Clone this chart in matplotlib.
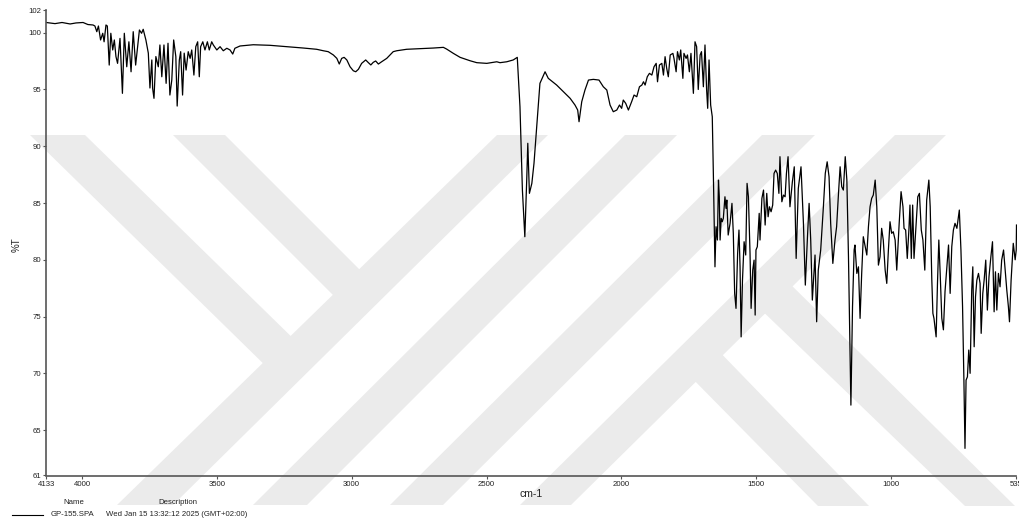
import matplotlib
matplotlib.use("Agg")
import matplotlib.pyplot as plt
from matplotlib.patches import Polygon
from matplotlib.transforms import Affine2D

# FTIR spectrum of GP-155 (wavenumber in cm-1, transmittance in %T)
wavenumber = [
    4133, 4100, 4074, 4044, 4022, 3996, 3978, 3959, 3952, 3945, 3939, 3931, 3923, 3918,
    3911, 3906, 3899, 3893, 3886, 3880, 3874, 3868, 3859, 3850, 3843, 3834, 3826, 3818,
    3810, 3801, 3787, 3779, 3773, 3763, 3754, 3748, 3741, 3738, 3733, 3726, 3717, 3711,
    3704, 3696, 3688, 3681, 3674, 3667, 3660, 3652, 3647, 3639, 3634, 3627, 3621, 3614,
    3606, 3599, 3593, 3585, 3578, 3571, 3565, 3560, 3552, 3544, 3535, 3528, 3519, 3513,
    3500, 3488, 3476, 3463, 3451, 3441, 3433, 3414, 3365, 3303, 3241, 3179, 3130, 3105,
    3087, 3068, 3055, 3046, 3037, 3028, 3018, 3006, 2994, 2985, 2975, 2963, 2948, 2938,
    2929, 2920, 2911, 2901, 2889, 2870, 2846, 2833, 2796, 2747, 2697, 2660, 2648, 2623,
    2598, 2561, 2536, 2499, 2462, 2450, 2425, 2401, 2386, 2376, 2367, 2358, 2351, 2347,
    2341, 2332, 2324, 2314, 2302, 2283, 2271, 2240, 2215, 2190, 2172, 2162, 2157, 2147,
    2135, 2122, 2104, 2083, 2067, 2054, 2042, 2030, 2017, 2007, 1999, 1993, 1984, 1974,
    1962, 1953, 1943, 1933, 1924, 1918, 1912, 1904, 1896, 1887, 1879, 1871, 1866, 1859,
    1850, 1844, 1838, 1832, 1826, 1819, 1809, 1805, 1797, 1792, 1785, 1780, 1772, 1768,
    1760, 1755, 1748, 1742, 1733, 1727, 1721, 1715, 1708, 1703, 1696, 1690, 1684, 1680,
    1675, 1669, 1663, 1659, 1656, 1653, 1649, 1644, 1640, 1637, 1634, 1630, 1626, 1622,
    1616, 1612, 1609, 1604, 1597, 1590, 1585, 1580, 1575, 1569, 1564, 1560, 1556, 1551,
    1545, 1539, 1534, 1529, 1523, 1519, 1513, 1508, 1504, 1501, 1496, 1489, 1486, 1479,
    1473, 1467, 1461, 1456, 1451, 1445, 1439, 1434, 1428, 1422, 1416, 1412, 1405, 1399,
    1393, 1388, 1382, 1375, 1366, 1359, 1352, 1344, 1334, 1325, 1318, 1310, 1304, 1298,
    1292, 1282, 1276, 1270, 1261, 1251, 1244, 1237, 1230, 1224, 1216, 1208, 1202, 1195,
    1189, 1183, 1177, 1170, 1164, 1158, 1152, 1149, 1143, 1137, 1134, 1127, 1121, 1115,
    1109, 1103, 1096, 1090, 1084, 1078, 1072, 1066, 1059, 1053, 1047, 1041, 1035, 1029,
    1022, 1016, 1010, 1004, 998, 992, 985, 979, 970, 963, 956, 952, 946, 940,
    934, 930, 925, 920, 915, 908, 901, 895, 888, 882, 875, 868, 860, 855,
    849, 845, 841, 833, 828, 823, 818, 812, 806, 800, 793, 787, 781, 775,
    769, 763, 756, 747, 741, 735, 730, 726, 722, 717, 712, 707, 701, 697,
    692, 687, 682, 676, 670, 666, 660, 655, 649, 643, 637, 630, 624, 618,
    613, 608, 602, 596, 590, 583, 577, 571, 565, 561, 555, 550, 547, 540,
    536, 535,
]
transmittance = [
    100.9, 100.8, 100.9, 100.77, 100.86, 100.9, 100.72, 100.68, 100.59, 100.09, 100.59, 99.36, 99.95, 99.2,
    100.68, 100.59, 97.15, 99.95, 98.48, 99.36, 97.9, 97.3, 99.5, 94.66, 99.95, 97.0, 99.2, 96.56,
    100.09, 97.15, 100.24, 99.95, 100.3, 99.36, 98.2, 95.13, 97.6, 95.1, 94.22, 97.9, 97.0, 98.92,
    96.12, 98.92, 95.54, 99.07, 94.51, 95.83, 99.36, 97.9, 93.54, 97.6, 98.33, 94.51, 98.2, 96.71,
    98.33, 97.74, 98.48, 96.27, 98.77, 99.2, 96.12, 98.77, 99.2, 98.48, 99.2, 98.48, 99.2, 98.92,
    98.48, 98.77, 98.41, 98.63, 98.48, 98.12, 98.63, 98.83, 98.94, 98.89, 98.77, 98.65, 98.54, 98.41,
    98.33, 98.04, 97.74, 97.24, 97.74, 97.83, 97.6, 97.0, 96.65, 96.56, 96.78, 97.3, 97.6, 97.36,
    97.16, 97.39, 97.51, 97.24, 97.44, 97.74, 98.33, 98.41, 98.54, 98.59, 98.65, 98.71, 98.56, 98.18,
    97.83, 97.53, 97.36, 97.3, 97.44, 97.36, 97.44, 97.6, 97.83, 93.48, 86.14, 82.03, 87.02, 90.26,
    85.85, 86.73, 88.5, 91.72, 95.54, 96.56, 95.98, 95.39, 94.8, 94.22, 93.63, 93.19, 92.16, 93.92,
    94.95, 95.83, 95.89, 95.83, 95.24, 94.95, 93.63, 93.04, 93.19, 93.63, 93.34, 94.07, 93.78, 93.19,
    93.92, 94.51, 94.36, 95.24, 95.39, 95.68, 95.39, 96.12, 96.42, 96.27, 97.0, 97.3, 95.68, 97.15,
    97.3, 96.27, 97.89, 96.86, 96.12, 98.04, 98.18, 97.74, 96.56, 98.33, 97.6, 98.48, 95.98, 98.18,
    97.74, 98.04, 96.56, 98.18, 94.66, 99.2, 98.77, 95.0, 98.04, 98.33, 95.24, 98.92, 95.0, 93.34,
    97.6, 93.63, 92.6, 87.6, 83.2, 79.38, 82.91, 81.74, 87.02, 85.55, 81.74, 83.65, 83.35, 83.65,
    85.55, 84.53, 85.26, 82.18, 83.21, 84.97, 82.33, 77.04, 75.72, 80.57, 82.62, 79.38, 73.21, 78.21,
    81.59, 80.42, 86.73, 85.55, 80.57, 75.72, 79.09, 79.97, 75.13, 80.86, 81.15, 84.09, 81.74, 85.41,
    86.14, 83.06, 85.85, 83.79, 84.67, 84.23, 84.82, 87.61, 87.9, 87.61, 85.85, 89.08, 85.11, 85.7,
    85.55, 87.61, 89.08, 84.67, 86.87, 88.19, 80.12, 86.29, 88.19, 83.21, 77.77, 82.03, 84.97, 81.74,
    76.45, 80.42, 74.54, 79.09, 80.86, 84.67, 87.61, 88.63, 87.31, 83.21, 79.68, 81.74, 82.91, 85.85,
    88.19, 86.43, 86.14, 89.08, 87.02, 80.27, 71.46, 67.2, 75.86, 80.86, 81.3, 78.8, 79.38, 74.84,
    78.8, 82.03, 81.15, 80.42, 82.91, 84.67, 85.41, 85.7, 87.02, 84.67, 79.53, 80.27, 82.77, 81.74,
    79.09, 77.92, 80.86, 83.35, 82.33, 82.47, 81.74, 79.09, 83.21, 86.0, 84.67, 82.77, 82.62, 80.12,
    82.62, 84.82, 80.12, 84.82, 80.12, 82.91, 85.55, 85.85, 82.62, 81.74, 79.09, 85.26, 87.02, 84.67,
    78.21, 75.28, 74.84, 73.21, 77.92, 81.74, 78.8, 74.86, 73.83, 77.21, 79.38, 81.3, 77.04, 81.15,
    82.62, 83.21, 82.77, 84.38, 80.86, 75.86, 69.4, 63.39, 69.4, 69.69, 72.05, 70.0, 77.33, 79.38,
    72.34, 76.74, 78.21, 78.8, 77.92, 73.52, 77.04, 78.21, 79.97, 75.57, 78.5, 80.27, 81.59, 75.42,
    78.94, 75.57, 78.8, 77.62, 79.97, 80.86, 79.09, 77.33, 75.86, 74.54, 78.21, 80.27, 81.45, 80.0,
    80.86, 83.06,
]

x_ticks = [4133, 4000, 3500, 3000, 2500, 2000, 1500, 1000, 535]
y_ticks = [61, 65, 70, 75, 80, 85, 90, 95, 100, 102]

W, H = 1019, 522
fig = plt.figure(figsize=(W / 100, H / 100), dpi=100)
fig.patch.set_facecolor("white")

# Background stripe emblem, drawn in pixel coordinates (origin top-left)
px = Affine2D().scale(1 / W, -1 / H).translate(0, 1) + fig.transFigure
stripe_color = "#ebebeb"
stripes = [
    [(117, 505), (173, 505), (548, 135), (497, 135)],
    [(253, 505), (307, 505), (677, 135), (625, 135)],
    [(390, 505), (443, 505), (815, 135), (762, 135)],
    [(520, 505), (571, 505), (946, 135), (895, 135)],
    [(30, 135), (85, 135), (304, 349), (276, 376)],
    [(173, 135), (225, 135), (372, 282), (346, 308)],
    [(780, 274), (1015, 506), (965, 506), (752, 301)],
    [(710, 342), (869, 506), (818, 506), (683, 369)],
]
for pts in stripes:
    fig.add_artist(Polygon(pts, closed=True, transform=px, facecolor=stripe_color,
                           edgecolor="none", zorder=0))

ax = fig.add_axes([46.1 / W, 1 - 475.5 / H, (1016.5 - 46.1) / W, (475.5 - 10) / H])
ax.set_zorder(1)
ax.patch.set_alpha(0)

ax.plot(wavenumber, transmittance, color="black", lw=0.9)

ax.set_xlim(4133, 535)
ax.set_ylim(61, 102)
ax.set_xticks(x_ticks)
ax.set_xticklabels([str(t) for t in x_ticks])
ax.set_yticks(y_ticks)
ax.set_yticklabels([str(t) for t in y_ticks])

font = "Liberation Sans"
for lab in ax.get_xticklabels() + ax.get_yticklabels():
    lab.set_fontfamily(font)
    lab.set_fontsize(5.6)
    lab.set_color("#222222")
    lab.set_clip_on(False)

for side in ("top", "right"):
    ax.spines[side].set_visible(False)
for side in ("left", "bottom"):
    ax.spines[side].set_color("#555555")
    ax.spines[side].set_linewidth(1.2)
ax.tick_params(axis="both", direction="out", length=2.5, width=0.8, color="#555555", pad=1.2)

fig.text(17 / W, 1 - 245 / H, "%T", rotation=90, ha="center", va="center",
         fontsize=7, family=font, color="#222222")
fig.text(531 / W, 1 - 494 / H, "cm-1", ha="center", va="center",
         fontsize=7.5, family=font, color="#222222")

# Legend block
fig.text(74 / W, 1 - 502 / H, "Name", ha="center", va="center", fontsize=5.6, family=font, color="#222222")
fig.text(178 / W, 1 - 502 / H, "Description", ha="center", va="center", fontsize=5.6, family=font, color="#222222")
fig.add_artist(plt.Line2D([12 / W, 43 / W], [1 - 515 / H, 1 - 515 / H], color="black", lw=0.8))
fig.text(50.5 / W, 1 - 514.5 / H, "GP-155.SPA", ha="left", va="center", fontsize=5.6, family=font, color="#222222")
fig.text(106 / W, 1 - 514.5 / H, "Wed Jan 15 13:32:12 2025 (GMT+02:00)", ha="left", va="center",
         fontsize=5.6, family=font, color="#222222")

fig.savefig("out.png", dpi=100)
